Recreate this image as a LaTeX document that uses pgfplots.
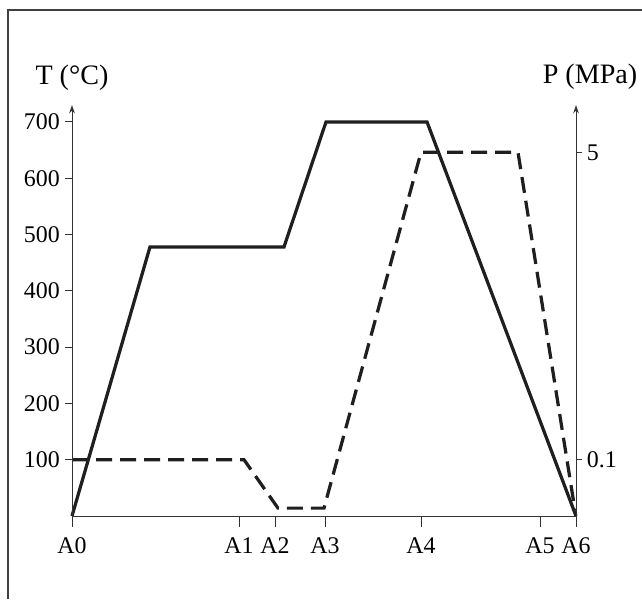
\documentclass[border=0pt]{standalone}
\usepackage{pgfplots}
\pgfplotsset{compat=1.18}
\usepackage{fontspec}
\setmainfont{Liberation Serif}
\usetikzlibrary{arrows.meta}

% x in px from A0, y in T units (P plotted on the same scale: 0.1 MPa -> 100, 5 MPa -> 646)
\pgfplotstableread{
x   T
0   0
78  478
212 478
254 700
355 700
504 0
}\temperature
\pgfplotstableread{
x   P
0   100
172 100
206 14
252 14
349 646
446 646
503 10
}\pressure

\pgfplotsset{
  common/.style={
    scale only axis,
    width=12.6cm, height=10.275cm,
    xmin=0, xmax=504, ymin=0, ymax=730,
    axis line style={line width=0.7pt, black!80},
    tick style={line width=0.7pt, black!80},
    /pgf/number format/assume math mode=true,
    tick label style={font=\fontsize{17}{20}\selectfont},
    clip=false,
  },
}

\begin{document}
\begin{tikzpicture}
\useasboundingbox (-1.8,-2.075) rectangle (14.25,12.9);
% scan frame
\draw[line width=0.8pt, black!75] (-1.6,-2.075) -- (-1.6,12.65) -- (14.25,12.65);

% x axis with the stage marks
\begin{axis}[
  common,
  axis x line*=bottom, axis y line=none,
  x axis line style={-},
  xtick={0,167,203,253,349,468,504},
  xticklabels={A0,A1,A2,A3,A4,A5,A6},
  xtick pos=bottom,
  xtick align=outside,
  major tick length=0.27cm,
  xticklabel style={yshift=-0.14cm},
]
\addplot[line width=2.3pt, black!88, line join=miter] table[x=x, y=T] {\temperature};
\addplot[line width=2.3pt, black!88, dash pattern=on 0.4cm off 0.2cm] table[x=x, y=P] {\pressure};
\end{axis}

% left axis: temperature
\begin{axis}[
  common,
  axis x line=none, axis y line*=left,
  y axis line style={-{Stealth[length=6pt,width=4pt]}},
  ytick={100,200,300,400,500,600,700},
  ytick pos=left,
  ytick align=outside,
  major tick length=0.18cm,
]
\node[font=\fontsize{20}{24}\selectfont] at (rel axis cs:0,1) [yshift=0.68cm] {T (°C)};
\end{axis}

% right axis: pressure
\begin{axis}[
  common,
  axis x line=none, axis y line*=right,
  y axis line style={-{Stealth[length=6pt,width=4pt]}},
  ytick={100,646},
  yticklabels={0.1,5},
  ytick pos=right,
  ytick align=outside,
  major tick length=0.15cm,
]
\node[font=\fontsize{20}{24}\selectfont] at (rel axis cs:1,1) [xshift=0.35cm, yshift=0.7cm] {P (MPa)};
\end{axis}
\end{tikzpicture}
\end{document}
